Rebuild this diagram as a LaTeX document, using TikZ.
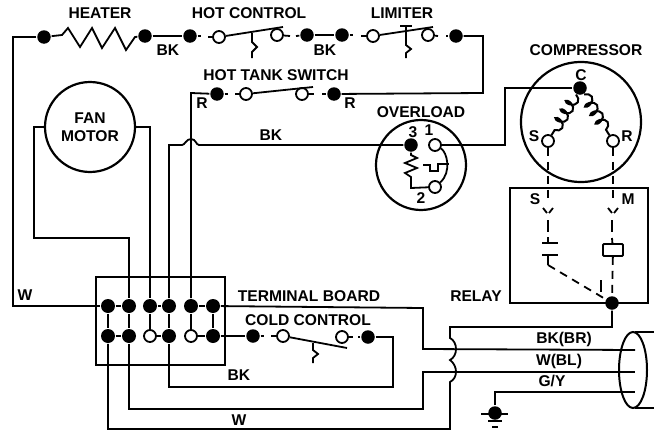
\documentclass[tikz,border=0pt]{standalone}
\usepackage{fontspec}
\setmainfont{Liberation Sans}
\usetikzlibrary{decorations.pathmorphing,shapes.geometric}
\tikzset{
lab/.style={font=\fontsize{15.6}{16}\selectfont\bfseries,inner sep=0pt},
dot/.style={circle,fill=black,inner sep=0pt,minimum size=13.5pt},
opn/.style={circle,draw,fill=white,inner sep=0pt,minimum size=12pt},
smalldot/.style={circle,fill=black,inner sep=0pt,minimum size=14pt},
bigcirc/.style={circle,draw,line width=2.2pt,inner sep=0pt,minimum size=#1},
box/.style={draw,line width=2.2pt,inner sep=0pt,minimum width=#1},
dsh/.style={dash pattern=on 8pt off 6pt},
coilwire/.style={decorate,line width=2pt,decoration={coil,aspect=0.6,segment length=10pt,amplitude=5.5pt}}
}
\begin{document}
\begin{tikzpicture}[x=1pt,y=-1pt,line width=1.8pt]
\useasboundingbox (0,0) rectangle (654,434);
\node[lab] at (100,13) {HEATER};
\node[lab] at (249,13) {HOT CONTROL};
\node[lab] at (402,13) {LIMITER};
\node[lab] at (276,75) {HOT TANK SWITCH};
\node[lab] at (586,50) {COMPRESSOR};
\node[lab] at (421,112) {OVERLOAD};
\node[lab] at (168,50) {BK};
\node[lab] at (325,50) {BK};
\node[lab] at (202,103) {R};
\node[lab] at (350,103) {R};
\node[lab] at (271,135) {BK};
\node[lab] at (413,132) {3};
\node[lab] at (429,130) {1};
\node[lab] at (421,198) {2};
\node[lab] at (581,75) {C};
\node[lab] at (534,136) {S};
\node[lab] at (627,136) {R};
\node[lab] at (535,199) {S};
\node[lab] at (628,199) {M};
\node[lab] at (25,295) {W};
\node[lab] at (309,296) {TERMINAL BOARD};
\node[lab] at (308,320) {COLD CONTROL};
\node[lab] at (239,375) {BK};
\node[lab] at (239,420) {W};
\node[lab] at (476,296) {RELAY};
\node[lab] at (564,339) {BK(BR)};
\node[lab] at (559,361) {W(BL)};
\node[lab] at (552,381) {G/Y};
\node[bigcirc=90pt,align=center,font=\fontsize{15.6}{18}\selectfont\bfseries](fan) at (90,127) {FAN\\MOTOR};
\node[bigcirc=90pt](over) at (421,165) {};
\node[bigcirc=120pt](comp) at (581,122) {};
\node[box=129pt,minimum height=88pt](board) at (160.5,321) {};
\node[box=138pt,minimum height=115pt](relay) at (579,245.5) {};
\node[draw,ellipse,minimum width=28pt,minimum height=76pt,inner sep=0pt,line width=2pt](plug) at (633,370) {};
\node[dot](h1) at (44,37) {};
\node[dot](h2) at (145,36) {};
\node[dot](c1) at (190,36) {};
\node[opn](c2) at (219,37) {};
\node[opn](c3) at (277,35) {};
\node[dot](c4) at (307,35) {};
\node[dot](l1) at (342,35) {};
\node[opn](l2) at (373,36) {};
\node[opn](l3) at (428,35) {};
\node[dot](l4) at (456,36) {};
\node[dot](s1) at (217,94) {};
\node[opn](s2) at (246,94) {};
\node[opn](s3) at (302,94) {};
\node[dot](s4) at (334,94) {};
\node[dot](o3) at (411,145) {};
\node[opn](o1) at (435,145) {};
\node[opn](o2) at (435,187) {};
\node[dot](pc) at (580,88) {};
\node[opn](ps) at (548,141) {};
\node[opn](pr) at (613,141) {};
\node[dot](r1) at (612,303) {};
\node[smalldot](a1) at (108,306) {};
\node[smalldot](a2) at (129,306) {};
\node[smalldot](a3) at (150,306) {};
\node[smalldot](a4) at (169,306) {};
\node[smalldot](a5) at (191,306) {};
\node[smalldot](a6) at (213,306) {};
\node[smalldot](b1) at (108,336) {};
\node[smalldot](b2) at (129,336) {};
\node[opn](b3) at (150,336) {};
\node[smalldot](b4) at (169,336) {};
\node[opn](b5) at (191,336) {};
\node[smalldot](b6) at (213,336) {};
\node[dot](k1) at (253,336) {};
\node[opn](k2) at (283,336) {};
\node[opn](k3) at (342,337) {};
\node[dot](k4) at (368,337) {};
\node[dot](gnd) at (495,413) {};
\coordinate (tl) at (13,37);
\coordinate (bl) at (13,306);
\draw (h1) -- (tl) -- (bl) -- (a1);
\draw (h1) -- (62,35) -- (68,28) -- (80,47) -- (92,28) -- (102,48) -- (115,28) -- (126,50) -- (135,37) -- (h2);
\draw (h2) -- (c1);
\draw (c1) -- (201,36);
\draw (208,37) -- (c2);
\draw (c2) -- (283,27);
\draw (c3) -- (290,36);
\draw (296,36) -- (c4);
\draw (c4) -- (l1);
\draw (l1) -- (353,35);
\draw (361,36) -- (l2);
\draw (l2) -- (433,27);
\draw (l3) -- (438,36);
\draw (446,36) -- (l4);
\draw (l4) -- (483,36) -- (483,93) -- (s4);
\draw (252,33) -- (252,42) -- (257,47) -- (252,52) -- (252,58);
\draw (400,26) -- (412,26);
\draw (406,26) -- (406,45) -- (411,49) -- (406,53) -- (406,58);
\draw (s1) -- (228,94);
\draw (235,94) -- (s2);
\draw (s2) -- (313,87);
\draw (s3) -- (314,94);
\draw (322,94) -- (s4);
\draw (s1) -- (191,93) -- (a5);
\draw (fan.west) -- (34,127) -- (34,238) -- (129,238) -- (a2);
\draw (fan.east) -- (150,127) -- (a3);
\draw (a4) -- (169,145) -- (182,145) .. controls (185,145) and (186,139) .. (191,139) .. controls (196,139) and (196,145) .. (199,145) -- (o3);
\draw (o1) -- (505,145) -- (505,88) -- (pc);
\draw (o3) -- (411,155) -- (417,158) -- (405,163) -- (417,168) -- (405,173) -- (411,177) -- (411,188) -- (o2);
\draw (o1) .. controls (447,152) and (452,172) .. (o2);
\draw (423,165) -- (430,165) -- (430,171) -- (438,171) -- (438,164) -- (449,164);
\draw[coilwire] (pc) -- (ps);
\draw[coilwire] (pc) -- (pr);
\draw[dsh] (ps) -- (548,200);
\draw[dsh] (pr) -- (613,200);
\draw (543,208) -- (547,213);
\draw (553,208) -- (549,213);
\draw (608,208) -- (612,213);
\draw (618,208) -- (614,213);
\draw (548,220) -- (548,232);
\draw (548,237) -- (548,243);
\draw (542,243) -- (558,243);
\draw (542,255) -- (558,255);
\draw (548,255) -- (548,265);
\draw[dsh] (548,265) -- (r1);
\node[draw,rounded corners=1pt,minimum width=20pt,minimum height=12pt,inner sep=0pt](coil) at (613,250) {};
\draw (612,220) -- (612,232);
\draw (612,238) -- (coil);
\draw[dsh] (coil) -- (r1);
\draw (601,280) -- (601,292);
\draw (a1) -- (b1);
\draw (a2) -- (b2);
\draw (a3) -- (b3);
\draw (a4) -- (b4);
\draw (a5) -- (b5);
\draw (a6) -- (b6);
\draw (a1) -- (a2);
\draw (a3) -- (a4);
\draw (a5) -- (a6);
\draw (b1) -- (b2);
\draw (b3) -- (b4);
\draw (b5) -- (b6);
\draw (b6) -- (k1);
\draw (k1) -- (264,336);
\draw (271,336) -- (k2);
\draw (k2) -- (347,348);
\draw (k3) -- (353,337);
\draw (358,337) -- (k4);
\draw (313,343) -- (313,350) -- (318,354) -- (313,358) -- (313,363);
\draw (k4) -- (393,337) -- (393,387) -- (169,387) -- (b4);
\draw (a6) -- (423,308) -- (423,349) -- (635,350);
\draw (b2) -- (129,409) -- (423,409) -- (423,372) -- (635,372);
\draw (b1) -- (108,429) -- (450,429) -- (450,382) .. controls (458,378) and (458,366) .. (450,360) .. controls (458,356) and (458,342) .. (450,338) -- (450,327) -- (612,327) -- (r1);
\draw (gnd) -- (495,392) -- (635,392);
\draw (481,414) -- (508,414);
\draw (488,421) -- (502,421);
\draw (492,427) -- (498,427);
\draw (635,332) -- (654,332);
\draw (635,408) -- (654,408);
\end{tikzpicture}
\end{document}
